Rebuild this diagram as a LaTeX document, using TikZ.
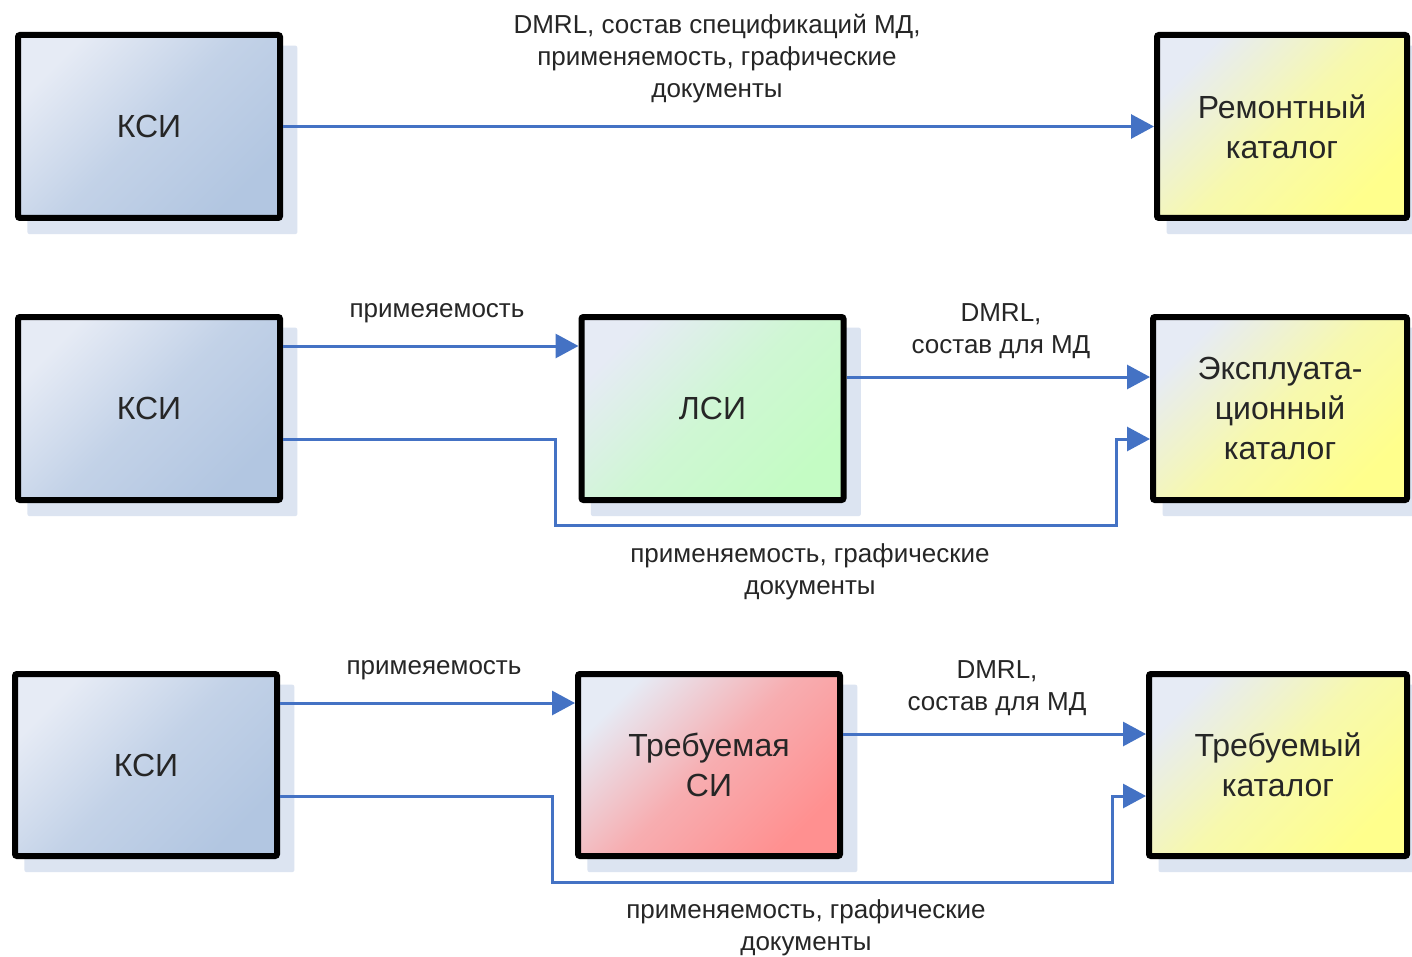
\documentclass[tikz,border=0pt]{standalone}
\usepackage{fontspec}
\setmainfont{Liberation Sans}
\usetikzlibrary{arrows.meta,shadows}
\definecolor{shadowc}{HTML}{DCE4F1}
\definecolor{arrowc}{HTML}{4472C4}
\definecolor{lightc}{HTML}{E6EBF5}
\definecolor{bluec}{HTML}{B2C6E1}
\definecolor{yellowc}{HTML}{FFFF8C}
\definecolor{greenc}{HTML}{C4FCC4}
\definecolor{redc}{HTML}{FF9090}
\begin{document}
\begin{tikzpicture}[x=0.5pt,y=-0.5pt,
  box/.style={draw=black, line width=3pt, rounded corners=1pt, align=center,
    font=\fontsize{16}{20}\selectfont, text=black!85, inner sep=0pt,
    minimum height=91.5pt,
    drop shadow={shadow xshift=6.5pt, shadow yshift=-6.5pt, shadow scale=1.03, fill=shadowc, opacity=1}},
  grad/.style={box, shading=axis, top color=lightc, bottom color=#1, middle color=#1!68!lightc, shading angle=45},
  bluebox/.style={grad=bluec},
  yellowbox/.style={grad=yellowc},
  greenbox/.style={grad=greenc},
  redbox/.style={grad=redc},
  arr/.style={draw=arrowc, line width=1.5pt, -{Triangle[length=11.5pt,width=12pt]}},
  lbl/.style={align=center, font=\fontsize{13}{16}\selectfont, text=black!85, inner sep=0pt}]
\clip (0,0) rectangle (1412,957);
\fill[white] (0,0) rectangle (1412,957);

% Row 1
\node[bluebox, minimum width=131pt] (k1) at (149,126.5) {КСИ};
\node[yellowbox, minimum width=125pt] (r1) at (1282,126.5) {Ремонтный\\каталог};
\draw[arr] (k1.east) -- (r1.west);
\node[lbl] (t1) at (717,59) {DMRL, состав спецификаций МД,\\применяемость, графические\\документы};

% Row 2
\node[bluebox, minimum width=131pt] (k2) at (149,408.5) {КСИ};
\node[greenbox, minimum width=131pt] (l2) at (712.5,408.5) {ЛСИ};
\node[yellowbox, minimum width=127pt] (e2) at (1280,408.5) {Эксплуата-\\ционный\\каталог};
\coordinate (y2a) at (0,346);
\coordinate (y2b) at (0,377);
\coordinate (c2a) at (555,439);
\coordinate (c2b) at (1116,525);
\draw[arr] (k2.east |- y2a) -- (l2.west |- y2a);
\draw[arr] (l2.east |- y2b) -- (e2.west |- y2b);
\draw[arr] (k2.east |- c2a) -- (c2a) |- (c2b) |- (e2.west |- c2a);
\node[lbl] (t2a) at (437,313) {примеяемость};
\node[lbl] (t2b) at (1001,331.5) {DMRL,\\состав для МД};
\node[lbl] (t2c) at (810,571.5) {применяемость, графические\\документы};

% Row 3
\node[bluebox, minimum width=131pt, minimum height=91pt] (k3) at (146,765) {КСИ};
\node[redbox, minimum width=131pt, minimum height=91pt] (s3) at (709,765) {Требуемая\\СИ};
\node[yellowbox, minimum width=129pt, minimum height=91pt] (c3) at (1278,765) {Требуемый\\каталог};
\coordinate (y3a) at (0,703);
\coordinate (y3b) at (0,734);
\coordinate (c3a) at (552,796);
\coordinate (c3b) at (1112,882);
\draw[arr] (k3.east |- y3a) -- (s3.west |- y3a);
\draw[arr] (s3.east |- y3b) -- (c3.west |- y3b);
\draw[arr] (k3.east |- c3a) -- (c3a) |- (c3b) |- (c3.west |- c3a);
\node[lbl] (t3a) at (434,670) {примеяемость};
\node[lbl] (t3b) at (997,688) {DMRL,\\состав для МД};
\node[lbl] (t3c) at (806,928) {применяемость, графические\\документы};
\end{tikzpicture}
\end{document}
